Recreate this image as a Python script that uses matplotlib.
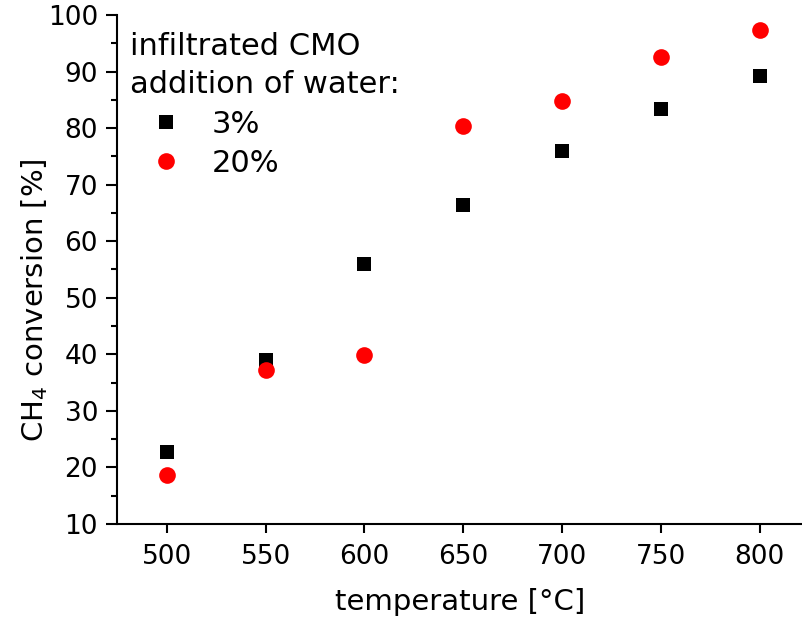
import matplotlib
matplotlib.use("Agg")
import matplotlib.pyplot as plt
from matplotlib.ticker import MultipleLocator

plt.rcParams['font.family'] = ['DejaVu Sans']

temperature = [500, 550, 600, 650, 700, 750, 800]
water_3 = [22.8, 39.0, 56.0, 66.4, 76.0, 83.3, 89.2]
water_20 = [18.6, 37.2, 39.9, 80.4, 84.8, 92.5, 97.4]
labels = ['3%', '20%']
title_lines = ['infiltrated CMO', 'addition of water:']

W, H = 803, 623
fig = plt.figure(figsize=(W / 100, H / 100), dpi=100)
ax = fig.add_axes([117.5 / W, (H - 524) / H, 1 - 117.5 / W, (524 - 15) / H])

ax.plot(temperature, water_3, linestyle='none', marker='s', markersize=10.5,
        color='black', markeredgewidth=0, label=labels[0])
ax.plot(temperature, water_20, linestyle='none', marker='o', markersize=12,
        color='#ff0000', markeredgewidth=0, label=labels[1])

ax.set_xlim(475, 822)
ax.set_ylim(10, 100)
ax.set_xticks(temperature)
ax.yaxis.set_major_locator(MultipleLocator(10))
ax.yaxis.set_minor_locator(MultipleLocator(5))

for s in ['top', 'right']:
    ax.spines[s].set_visible(False)
for s in ['left', 'bottom']:
    ax.spines[s].set_linewidth(1.5)

ax.tick_params(axis='both', which='major', direction='out', width=1.5, labelsize=19)
ax.tick_params(axis='y', which='major', length=8, pad=6)
ax.tick_params(axis='y', which='minor', direction='out', length=4, width=1.5)
ax.tick_params(axis='x', which='major', length=6.5, pad=8)

ax.set_xlabel('temperature [°C]', fontsize=21, labelpad=13)
ax.set_ylabel('CH$_4$ conversion [%]', fontsize=21)
ax.yaxis.set_label_coords(-0.098, 0.44)

fs_leg = 22
fig.text(130 / W, 1 - 55 / H, title_lines[0], fontsize=fs_leg, va='baseline', ha='left')
fig.text(130 / W, 1 - 93 / H, title_lines[1], fontsize=fs_leg, va='baseline', ha='left')

leg = ax.legend(loc='center left', bbox_to_anchor=(128 / W, 1 - 144 / H),
                bbox_transform=fig.transFigure, frameon=False, fontsize=fs_leg,
                handlelength=2.48, handletextpad=0.26, labelspacing=0.33,
                borderaxespad=0, borderpad=0)
fig.savefig('out.png', dpi=100)
